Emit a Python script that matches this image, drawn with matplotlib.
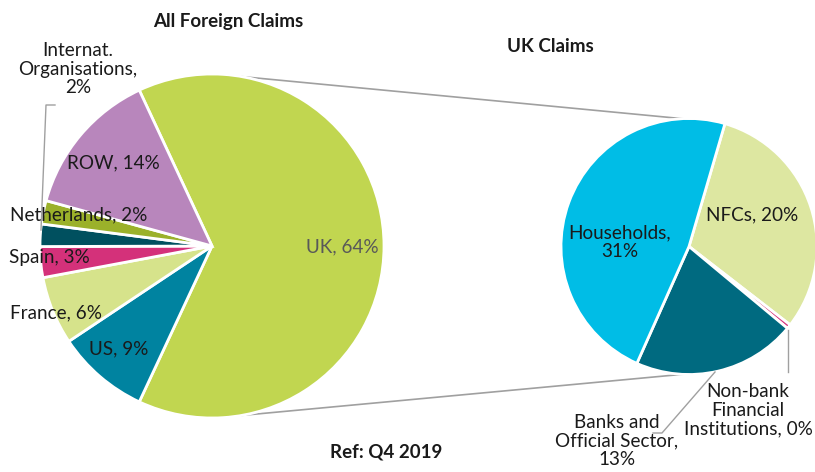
import matplotlib.pyplot as plt
import numpy as np

plt.rcParams['font.family'] = ['Lato', 'DejaVu Sans']

# All foreign claims (%), clockwise from the top of the UK slice
foreign_labels = ['UK', 'US', 'France', 'Spain', 'Internat.\nOrganisations', 'Netherlands', 'ROW']
foreign_values = [63.9, 8.7, 6.4, 2.9, 2.1, 2.2, 13.8]
foreign_colors = ['#C1D650', '#0083A0', '#D6E38B', '#D4317A', '#00505F', '#9BB12A', '#B886BC']

# UK claims by sector (% of all foreign claims), clockwise
uk_labels = ['NFCs', 'Non-bank\nFinancial\nInstitutions', 'Banks and\nOfficial Sector', 'Households']
uk_values = [19.8, 0.35, 13.2, 30.6]
uk_colors = ['#DDE7A1', '#D63A80', '#006A80', '#00BDE6']

W, H = 815, 472
fig = plt.figure(figsize=(W / 100, H / 100), dpi=100)
ax = fig.add_axes([0, 0, 1, 1])

def py(y):
    # pixel row -> data y
    return H - y

c1, r1 = (212, py(246)), 172
c2, r2 = (689, py(246.5)), 128

wp = dict(edgecolor='white', linewidth=2)
ax.pie(foreign_values, colors=foreign_colors, center=c1, radius=r1,
       startangle=foreign_values[0] / 100 * 180, counterclock=False,
       wedgeprops=wp, frame=True)
ax.pie(uk_values, colors=uk_colors, center=c2, radius=r2,
       startangle=73.7, counterclock=False, wedgeprops=wp, frame=True)
ax.set_xlim(0, W)
ax.set_ylim(0, H)
ax.set_aspect('equal')
ax.axis('off')

# connector lines between the pies
for s in (1, -1):
    a1 = np.radians(80 * s)
    a2 = np.radians(90 + 3 * s)
    ax.plot([c1[0] + r1 * np.cos(a1), c2[0] + r2 * np.cos(a2) * s],
            [c1[1] + r1 * np.sin(a1), c2[1] + r2 * np.sin(a2) * s],
            color='#A0A0A0', lw=1.2, zorder=0)

def pct(v):
    return '%d%%' % round(v)

fs = 13.6
txt = dict(fontsize=fs, ha='center', va='center', color='#1a1a1a', linespacing=1.1)

# left pie labels (layout positions in pixels)
left_pos = {
    'UK': (342, 247),
    'US': (119, 349),
    'France': (56, 313),
    'Spain': (49, 258),
    'Internat.\nOrganisations': (78, 69),
    'Netherlands': (79, 215),
    'ROW': (113, 163),
}
for lab, v in zip(foreign_labels, foreign_values):
    x, y = left_pos[lab]
    sep = '\n' if '\n' in lab else ' '
    col = '#595959' if lab == 'UK' else '#1a1a1a'
    ax.text(x, py(y), lab + ',' + sep + pct(v), **{**txt, 'color': col})

ax.plot([55, 46, 41], [py(105), py(105), py(230)], color='#A0A0A0', lw=1)

right_pos = {
    'NFCs': (752, 215),
    'Non-bank\nFinancial\nInstitutions': (748, 410),
    'Banks and\nOfficial Sector': (617, 441),
    'Households': (620, 242),
}
for lab, v in zip(uk_labels, uk_values):
    x, y = right_pos[lab]
    if lab == 'NFCs' or lab.startswith('Non-bank'):
        s = lab + ', ' + pct(v)
    else:
        s = lab + ',\n' + pct(v)
    ax.text(x, py(y), s, **txt)

ax.plot([788, 788], [py(330), py(372)], color='#A0A0A0', lw=1)
ax.plot([715, 662, 653], [py(372), py(433), py(433)], color='#A0A0A0', lw=1)

tt = dict(fontsize=13.5, fontweight='bold', ha='center', va='center', color='#1a1a1a')
ax.text(228, py(22), 'All Foreign Claims', **tt)
ax.text(550, py(46), 'UK Claims', **tt)
ax.text(386, py(452), 'Ref: Q4 2019', **tt)

fig.savefig('out.png', dpi=100)
